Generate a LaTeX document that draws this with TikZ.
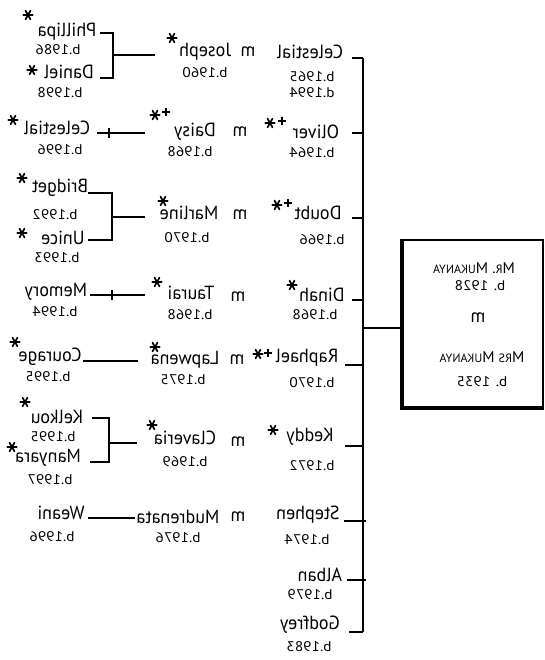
\documentclass[tikz,border=0pt]{standalone}
\usepackage{fontspec}
\setmainfont{PT Sans}
% hand-lettered tree, written in mirror image: every label is flipped left to right
\tikzset{
  nm/.style={inner sep=0pt, xscale=-0.95, font=\fontsize{19}{19}\selectfont},
  dt/.style={inner sep=0pt, xscale=-1.1, font=\fontsize{14}{14}\selectfont},
  bx/.style={inner sep=0pt, xscale=-1, font=\fontsize{15.5}{15.5}\selectfont},
  ln/.style={line width=1.4pt},
  astk/.pic={\draw[line width=1.7pt,line cap=round] (-4.8,0)--(4.8,0) (-2.5,-4.4)--(2.5,4.4) (-2.5,4.4)--(2.5,-4.4);},
  pls/.pic={\draw[line width=1.3pt] (-3.8,0)--(3.8,0) (0,-4.2)--(0,4.2);}
}
\newcommand{\smc}[1]{{\fontsize{12}{12}\selectfont #1}}
\begin{document}
\begin{tikzpicture}[x=1pt,y=-1pt]
\useasboundingbox (0,0) rectangle (544,660);
\fill[white] (0,0) rectangle (544,660);

% ---- parents ----
\node[draw, line width=1.4pt, minimum width=141pt, minimum height=168pt, inner sep=0pt] (parents) at (472.5,324) {};
\draw[line width=4pt] ([xshift=1pt]parents.north west) -- ([xshift=1pt,yshift=1pt]parents.south west) -- ([yshift=1pt]parents.south east);
\node[bx] (mr) at (474,268) {M\smc{R}. M\smc{UKANYA}};
\node[dt] (mrb) at (480,286) {b. 1928};
\node[nm] (pm) at (478,318) {m};
\node[bx] (mrs) at (482,357) {M\smc{RS} M\smc{UKANYA}};
\node[dt] (mrsb) at (482,382) {b. 1935};

% ---- trunk ----
\coordinate (trunkTop) at (363,58);
\coordinate (trunkBot) at (363,632);
\draw[line width=1.8pt] (trunkTop) -- (trunkBot);
\coordinate (jn) at (363,328);
\draw[ln] (jn) -- (jn -| parents.west);

% ---- children ----
\node[nm] (c1) at (310,52) {Celestial};
\node[dt] (c1b) at (312,77) {b.1965};
\node[dt] (c1d) at (312,93) {d.1994};
\coordinate (t1) at (352,58);

\node[nm] (c2) at (316,132) {Oliver};
\pic at (270,123) {astk}; \pic at (282,121) {pls};
\node[dt] (c2b) at (312,153) {b.1964};
\coordinate (t2) at (352,133);

\node[nm] (c3) at (318,213) {Doubt};
\pic at (277,205) {astk}; \pic at (288,203) {pls};
\node[dt] (c3b) at (322,240) {b.1966};
\coordinate (t3) at (352,218);

\node[nm] (c4) at (322,295) {Dinah};
\pic at (292,285) {astk};
\node[dt] (c4b) at (315,315) {b.1968};
\coordinate (t4) at (352,300);

\node[nm] (c5) at (307,358) {Raphael};
\pic at (258,354) {astk}; \pic at (268,353) {pls};
\node[dt] (c5b) at (312,383) {b.1970};
\coordinate (t5) at (345,365);

\node[nm] (c6) at (310,437) {Keddy};
\pic at (273,430) {astk};
\node[dt] (c6b) at (312,466) {b.1972};
\coordinate (t6) at (345,446);

\node[nm] (c7) at (308,515) {Stephen};
\node[dt] (c7b) at (307,540) {b.1974};
\coordinate (t7) at (344,521);

\node[nm] (c8) at (320,575) {Alban};
\node[dt] (c8b) at (310,595) {b.1979};
\coordinate (t8) at (347,580);

\node[nm] (c9) at (310,625) {Godfrey};
\node[dt] (c9b) at (309,647) {b.1983};
\coordinate (t9) at (349,632);

\foreach \t in {t1,t2,t3,t4,t5,t6,t9}
  \draw[ln] (\t) -- (\t -| trunkTop);
\foreach \t in {t7,t8}
  \draw[ln] (\t) -- ([xshift=3pt]\t -| trunkTop);

% ---- spouses ----
\node[nm] (m1) at (248,52) {m};
\node[nm] (s1) at (205,52) {Joseph};
\pic at (172,38) {astk};
\node[dt] (s1b) at (205,73) {b.1960};

\node[nm] (m2) at (240,132) {m};
\node[nm] (s2) at (195,132) {Daisy};
\pic at (155,115) {astk}; \pic at (166,112) {pls};
\node[dt] (s2b) at (190,152) {b.1968};

\node[nm] (m3) at (240,215) {m};
\node[nm] (s3) at (189,213) {Marline};
\pic at (163,201) {astk};
\node[dt] (s3b) at (187,238) {b.1970};

\node[nm] (m4) at (238,297) {m};
\node[nm] (s4) at (191,293) {Taurai};
\pic at (157,282) {astk};
\node[dt] (s4b) at (190,315) {b.1968};

\node[nm] (m5) at (237,360) {m};
\node[nm] (s5) at (185,360) {Lapwena};
\pic at (155,347) {astk};
\node[dt] (s5b) at (183,380) {b.1975};

\node[nm] (m6) at (238,442) {m};
\node[nm] (s6) at (185,438) {Claveria};
\pic at (152,425) {astk};
\node[dt] (s6b) at (185,462) {b.1969};

\node[nm] (m7) at (238,517) {m};
\node[nm] (s7) at (178,517) {Mudrenata};
\node[dt] (s7b) at (178,538) {b.1976};

% ---- grandchildren ----
% Joseph's family
\coordinate (f1a) at (155,55); \coordinate (f1k) at (113,55);
\coordinate (f1t) at (100,33); \coordinate (f1u) at (100,78);
\draw[ln] (f1a) -- (f1k);
\draw[ln] (f1t) -| (f1k) |- (f1u);
\node[nm] (g1) at (67,32) {Phillipa};
\pic at (28,15) {astk};
\node[dt] (g1b) at (58,50) {b.1986};
\node[nm] (g2) at (69,72) {Daniel};
\pic at (32,70) {astk};
\node[dt] (g2b) at (60,93) {b.1998};

% Oliver's family
\coordinate (f2a) at (145,133); \coordinate (f2b) at (97,133);
\draw[ln] (f2a) -- (f2b);
\draw[ln] (109,128) -- (109,138);
\node[nm] (g3) at (57,128) {Celestial};
\pic at (13,120) {astk};
\node[dt] (g3b) at (60,150) {b.1996};

% Doubt's family
\coordinate (f3a) at (145,217); \coordinate (f3k) at (112,217);
\coordinate (f3t) at (88,193); \coordinate (f3u) at (88,240);
\draw[ln] (f3a) -- (f3k);
\draw[ln] (f3t) -| (f3k) |- (f3u);
\node[nm] (g4) at (60,188) {Bridget};
\pic at (22,178) {astk};
\node[dt] (g4b) at (55,215) {b.1992};
\node[nm] (g5) at (63,238) {Unice};
\pic at (22,233) {astk};
\node[dt] (g5b) at (57,258) {b.1993};

% Dinah's family
\coordinate (f4a) at (145,295); \coordinate (f4b) at (90,295);
\draw[ln] (f4a) -- (f4b);
\draw[ln] (112,290) -- (112,300);
\node[nm] (g6) at (56,292) {Memory};
\node[dt] (g6b) at (55,312) {b.1994};

% Raphael's family
\coordinate (f5a) at (138,361); \coordinate (f5b) at (83,361);
\draw[ln] (f5a) -- (f5b);
\node[nm] (g7) at (50,357) {Courage};
\pic at (15,342) {astk};
\node[dt] (g7b) at (48,377) {b.1995};

% Keddy's family
\coordinate (f6a) at (137,443); \coordinate (f6k) at (109,443);
\coordinate (f6t) at (92,418); \coordinate (f6u) at (90,462);
\draw[ln] (f6a) -- (f6k);
\draw[ln] (f6t) -| (f6k) |- (f6u);
\node[nm] (g8) at (57,417) {Kelkou};
\pic at (25,402) {astk};
\node[dt] (g8b) at (53,437) {b.1995};
\node[nm] (g9) at (48,458) {Manyara};
\pic at (12,447) {astk};
\node[dt] (g9b) at (50,480) {b.1997};

% Stephen's family
\coordinate (f7a) at (135,518); \coordinate (f7b) at (88,518);
\draw[ln] (f7a) -- (f7b);
\node[nm] (g10) at (61,513) {Weani};
\node[dt] (g10b) at (52,537) {b.1996};
\end{tikzpicture}
\end{document}
